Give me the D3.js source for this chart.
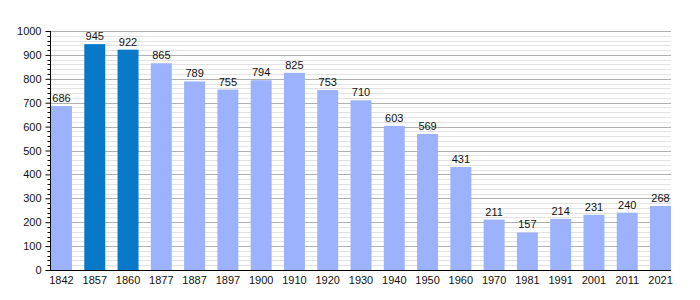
<!DOCTYPE html>
<html><head><meta charset="utf-8">
<script src="https://cdn.jsdelivr.net/npm/d3@7"></script>
<style>body{margin:0;background:#fff}svg{display:block}text{font-family:"Liberation Sans",Arial,sans-serif}</style>
</head><body>
<svg id="c" width="700" height="300"></svg>
<script>
const years = ["1842","1857","1860","1877","1887","1897","1900","1910","1920","1930","1940","1950","1960","1970","1981","1991","2001","2011","2021"];
const population = [686,945,922,865,789,755,794,825,753,710,603,569,431,211,157,214,231,240,268];
const highlighted = ["1857","1860"];
const yTicks = [0,100,200,300,400,500,600,700,800,900,1000];

const svg = d3.select("#c");
const m = {l:50, t:31, b:30};
const gridRight = 671;
const H = 300;
const x = d3.scaleBand().domain(years).range([m.l + 1, gridRight]).paddingInner(0.37).paddingOuter(0);
const y = d3.scaleLinear().domain([0,1000]).range([H - m.b, m.t]);

const minor = d3.range(0, 1001, 20).filter(v => v % 100 !== 0);
svg.append("g").selectAll("line").data(minor).join("line")
  .attr("x1", m.l).attr("x2", gridRight).attr("y1", d => Math.round(y(d)) + 0.5).attr("y2", d => Math.round(y(d)) + 0.5)
  .attr("stroke", "#e2e2e2").attr("stroke-width", 1);
svg.append("g").selectAll("line").data(yTicks.slice(1)).join("line")
  .attr("x1", m.l).attr("x2", gridRight).attr("y1", d => Math.round(y(d)) + 0.5).attr("y2", d => Math.round(y(d)) + 0.5)
  .attr("stroke", "#b0b0b0").attr("stroke-width", 1);

svg.append("g").selectAll("rect").data(years).join("rect")
  .attr("x", d => x(d)).attr("width", x.bandwidth())
  .attr("y", (d,i) => y(population[i])).attr("height", (d,i) => y(0) - y(population[i]))
  .attr("fill", d => highlighted.includes(d) ? "#0878c8" : "#9db2fc");

svg.append("g").selectAll("text").data(years).join("text")
  .attr("x", d => x(d) + x.bandwidth()/2).attr("y", (d,i) => y(population[i]) - 4)
  .attr("text-anchor", "middle").attr("font-size", 11).attr("fill", "#111")
  .text((d,i) => population[i]);

// y axis
const ya = svg.append("g").attr("transform", `translate(${m.l + 0.5},0)`)
  .call(d3.axisLeft(y).tickValues(yTicks).tickFormat(d3.format("d")).tickSize(5).tickPadding(4));
ya.select(".domain").remove();
ya.selectAll("text").attr("font-size", 11).attr("fill", "#111").attr("font-family", "Liberation Sans, Arial, sans-serif");
ya.selectAll("line").attr("stroke", "#000");
svg.append("g").selectAll("line").data(minor).join("line")
  .attr("x1", m.l - 2.5).attr("x2", m.l).attr("y1", d => Math.round(y(d)) + 0.5).attr("y2", d => Math.round(y(d)) + 0.5)
  .attr("stroke", "#000");
svg.append("line").attr("x1", m.l + 0.5).attr("x2", m.l + 0.5).attr("y1", y(1000)).attr("y2", y(0) + 1).attr("stroke", "#000");

// x axis
const xa = svg.append("g").attr("transform", `translate(0,${y(0)})`)
  .call(d3.axisBottom(x).tickSize(0).tickPadding(6));
xa.select(".domain").remove();
xa.selectAll("text").attr("font-size", 11).attr("fill", "#111").attr("font-family", "Liberation Sans, Arial, sans-serif");
svg.append("line").attr("x1", m.l).attr("x2", gridRight).attr("y1", y(0) + 0.5).attr("y2", y(0) + 0.5).attr("stroke", "#000");
</script>
</body></html>
